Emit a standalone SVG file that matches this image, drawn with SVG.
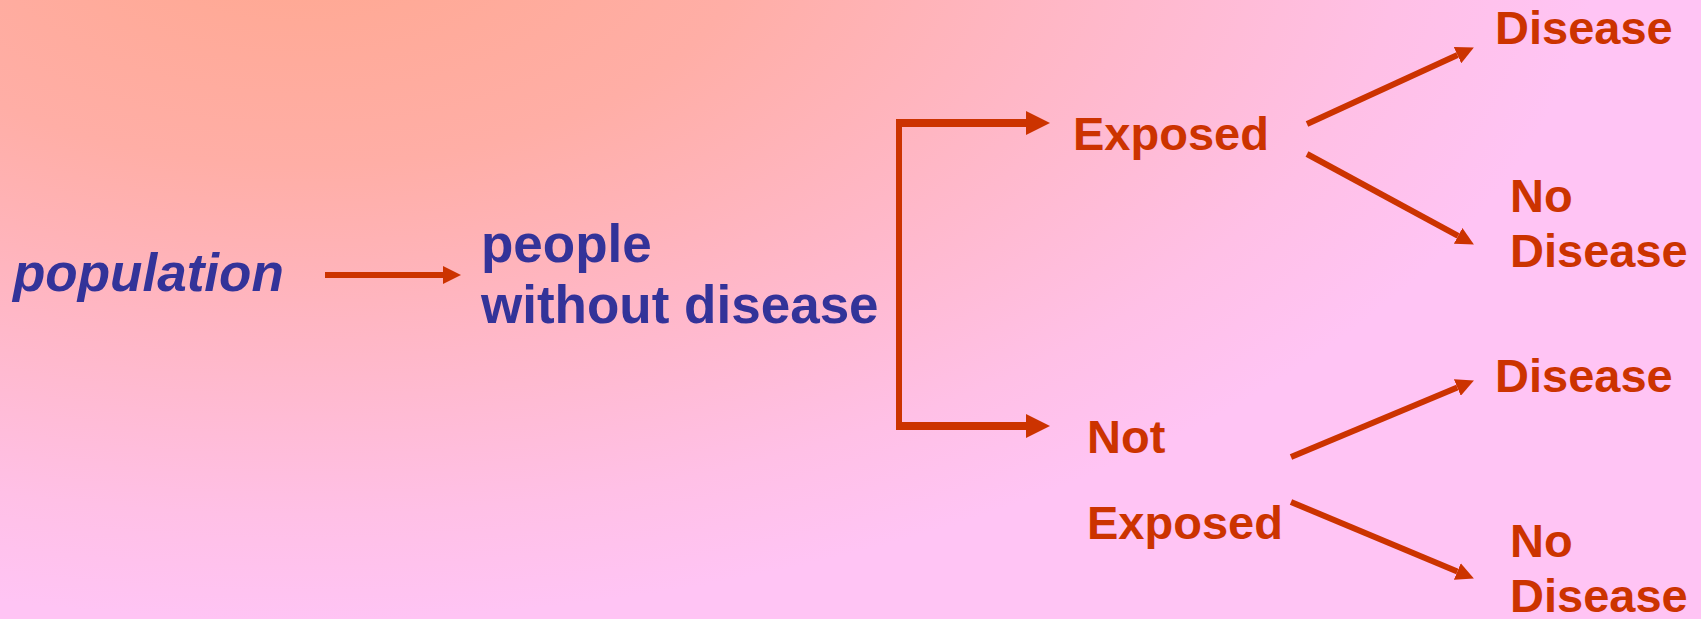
<svg xmlns="http://www.w3.org/2000/svg" width="1701" height="619" viewBox="0 0 1701 619">
  <defs>
    <radialGradient id="bg" gradientUnits="userSpaceOnUse" cx="300" cy="-80" r="700" gradientTransform="translate(300,-80) scale(1.857,1) translate(-300,80)">
      <stop offset="0" stop-color="#FFA78E"/>
      <stop offset="0.35" stop-color="#FFAEA6"/>
      <stop offset="0.6" stop-color="#FFB7C6"/>
      <stop offset="0.85" stop-color="#FFC0E6"/>
      <stop offset="1" stop-color="#FFC4F4"/>
    </radialGradient>
    <marker id="headS" markerUnits="userSpaceOnUse" markerWidth="18" markerHeight="18" refX="0" refY="9" orient="auto">
      <path d="M0,0 L18,9 L0,18 z" fill="#CC3300"/>
    </marker>
    <marker id="headL" markerUnits="userSpaceOnUse" markerWidth="24" markerHeight="24" refX="0" refY="12" orient="auto">
      <path d="M0,0 L24,12 L0,24 z" fill="#CC3300"/>
    </marker>
  </defs>
  <style>
    .blue { font-family: "Liberation Sans", Arial, sans-serif; font-weight: bold; font-size: 53px; fill: #333399; }
    .red { font-family: "Liberation Sans", Arial, sans-serif; font-weight: bold; font-size: 47px; fill: #CC3300; }
    .ln { stroke: #CC3300; fill: none; }
  </style>
  <rect width="1701" height="619" fill="url(#bg)"/>

  <g id="population">
    <text class="blue" x="13" y="291" font-style="italic">population</text>
  </g>
  <g id="people">
    <text class="blue" x="481" y="262">people</text>
    <text class="blue" x="481" y="323">without disease</text>
  </g>
  <g id="exposed">
    <text class="red" x="1073" y="150">Exposed</text>
  </g>
  <g id="not-exposed">
    <text class="red" x="1087" y="453">Not</text>
    <text class="red" x="1087" y="539">Exposed</text>
  </g>
  <g id="exp-disease">
    <text class="red" x="1495" y="44">Disease</text>
  </g>
  <g id="exp-no-disease">
    <text class="red" x="1510" y="212">No</text>
    <text class="red" x="1510" y="267">Disease</text>
  </g>
  <g id="notexp-disease">
    <text class="red" x="1495" y="392">Disease</text>
  </g>
  <g id="notexp-no-disease">
    <text class="red" x="1510" y="557">No</text>
    <text class="red" x="1510" y="612">Disease</text>
  </g>

  <g id="connectors">
    <line class="ln" x1="325" y1="275" x2="443" y2="275" stroke-width="6" marker-end="url(#headS)"/>
    <line class="ln" x1="899" y1="120" x2="899" y2="430" stroke-width="6"/>
    <line class="ln" x1="896" y1="123" x2="1026" y2="123" stroke-width="8" marker-end="url(#headL)"/>
    <line class="ln" x1="896" y1="426" x2="1026" y2="426" stroke-width="8" marker-end="url(#headL)"/>
    <line class="ln" x1="1307" y1="124" x2="1457.5" y2="55.1" stroke-width="6" marker-end="url(#headS)"/>
    <line class="ln" x1="1307" y1="154" x2="1458.1" y2="235.9" stroke-width="6" marker-end="url(#headS)"/>
    <line class="ln" x1="1291" y1="457" x2="1457.3" y2="387.5" stroke-width="6" marker-end="url(#headS)"/>
    <line class="ln" x1="1291" y1="502" x2="1457.3" y2="571.5" stroke-width="6" marker-end="url(#headS)"/>
  </g>
</svg>
